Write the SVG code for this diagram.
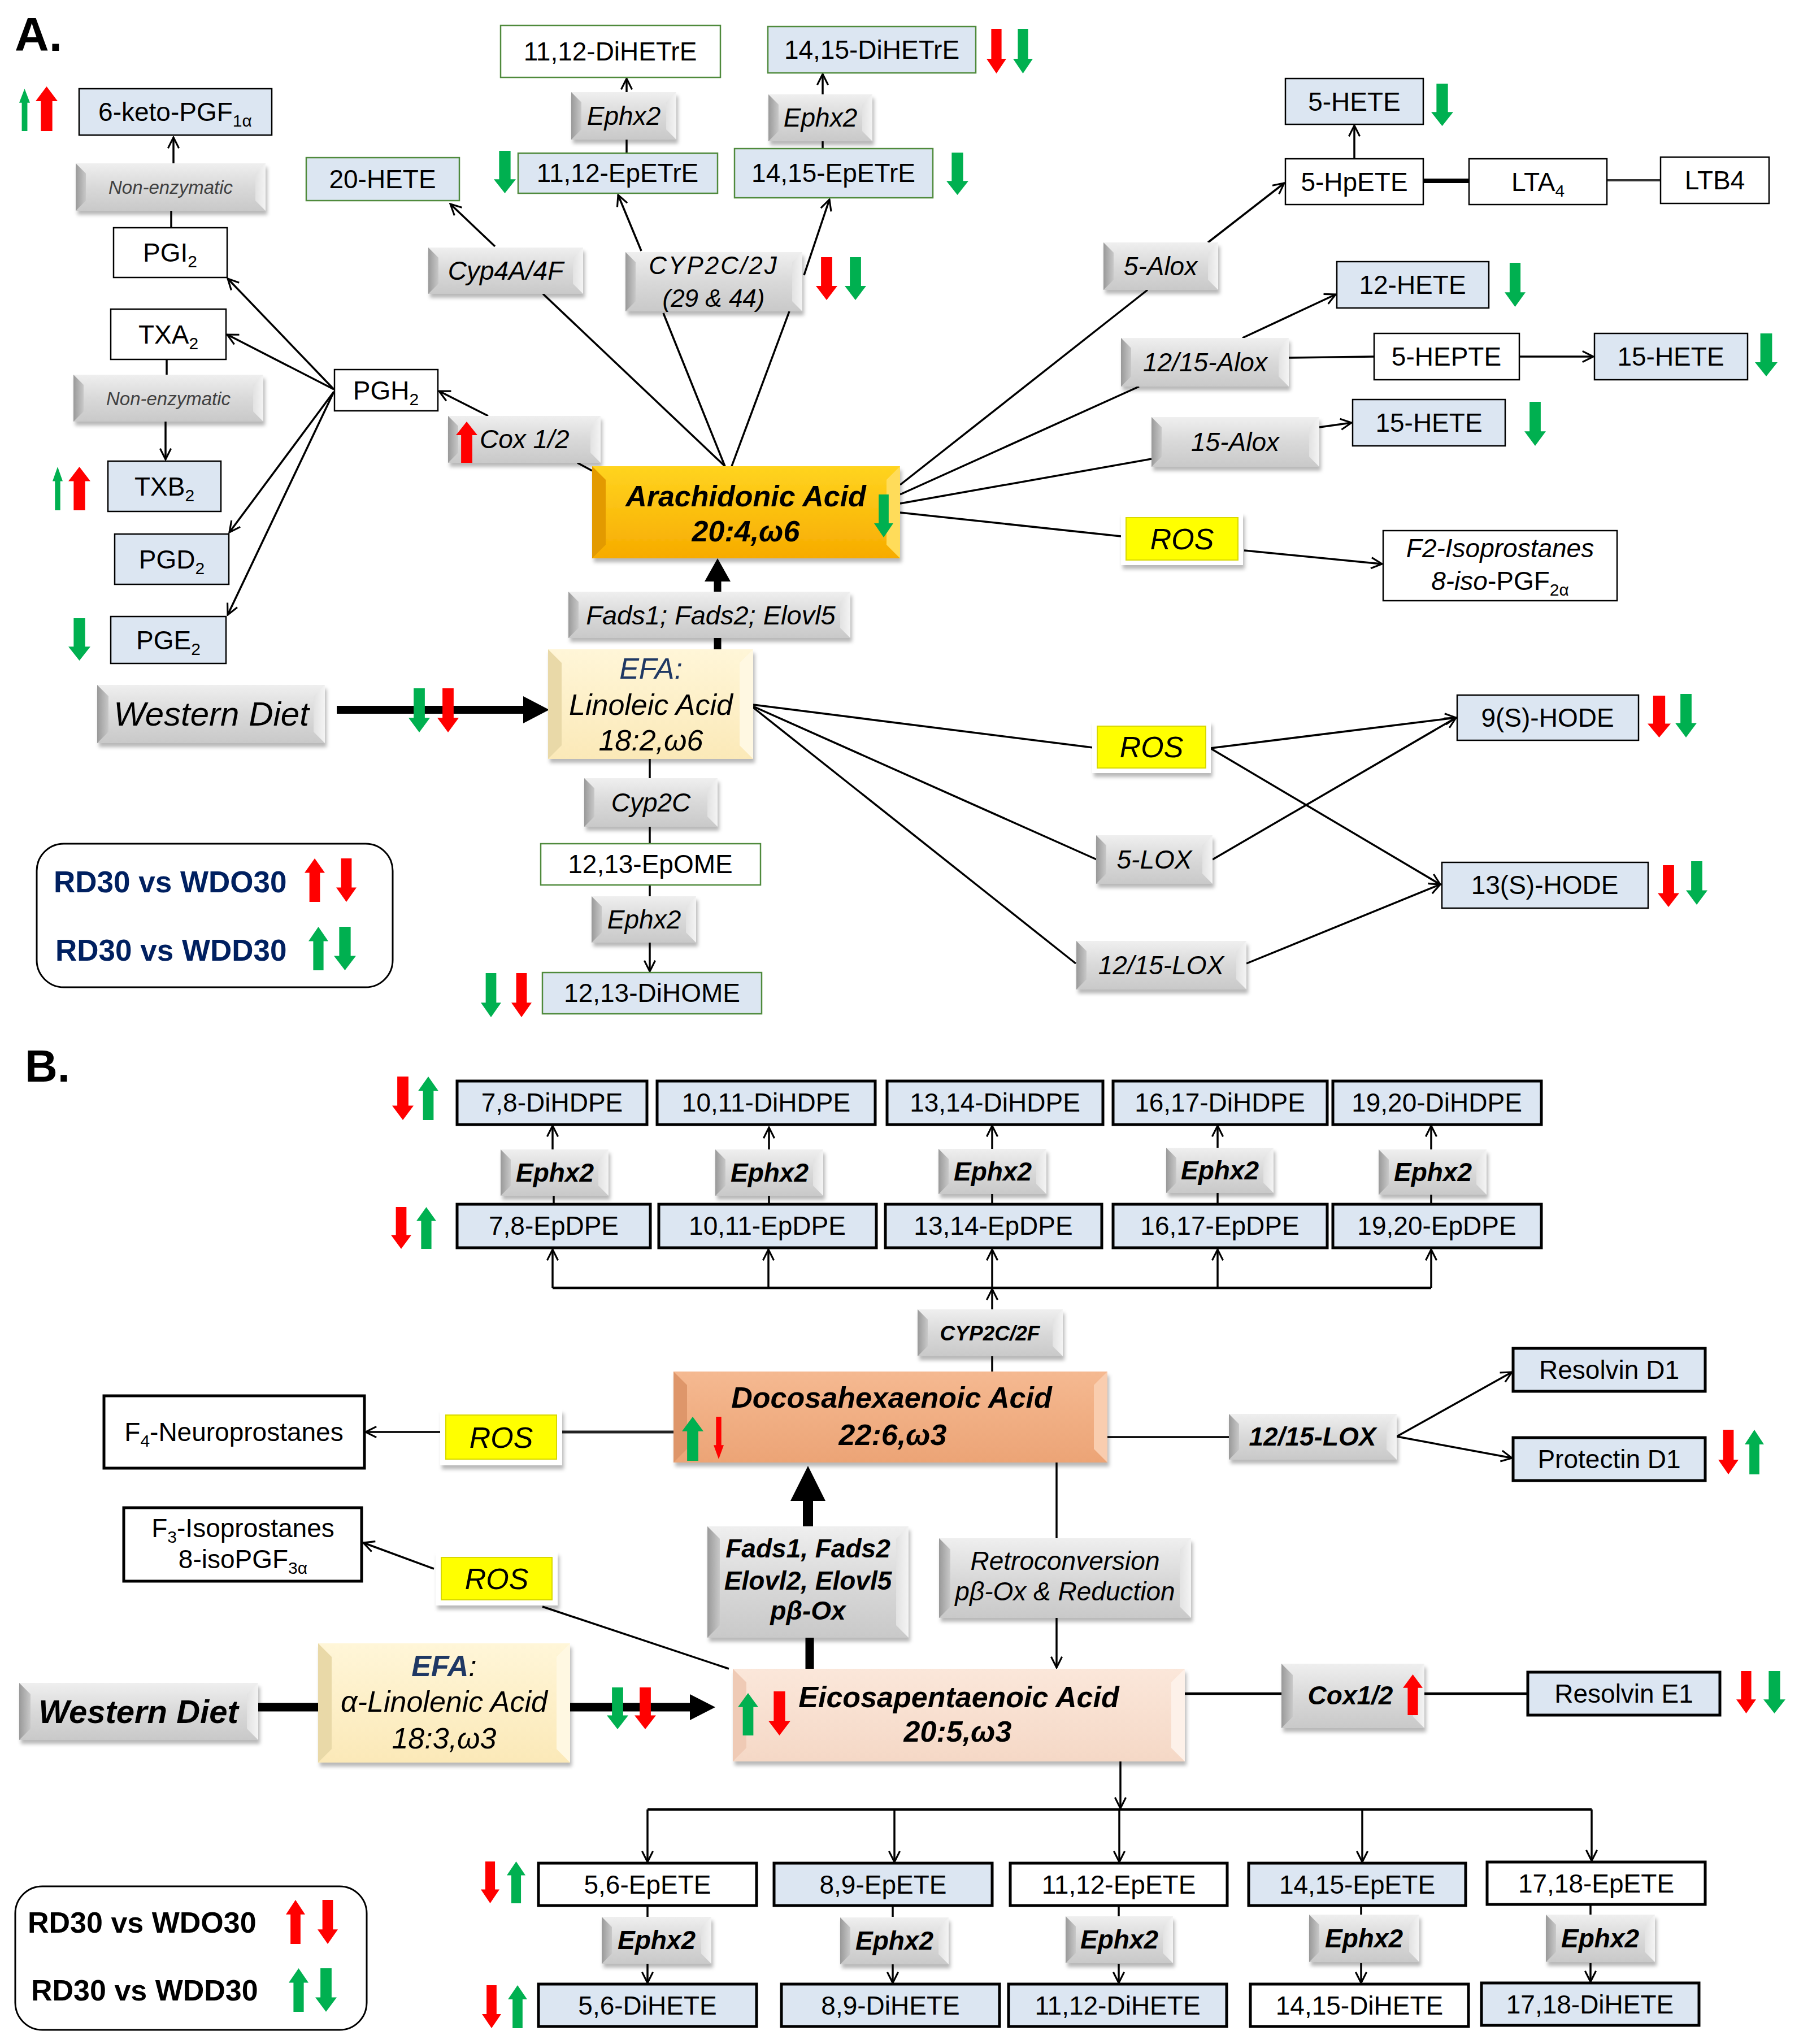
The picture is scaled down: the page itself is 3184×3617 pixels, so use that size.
<svg xmlns="http://www.w3.org/2000/svg" width="3184" height="3617" viewBox="0 0 3184 3617">
<defs>
<style>
.t{font-family:"Liberation Sans",Arial,sans-serif;font-size:46px;text-anchor:middle;fill:#000}
.i{font-style:italic}
.b{font-weight:bold}
.s{font-size:30px}
.bx{stroke:#000;stroke-width:2.5}
.bb{stroke:#000;stroke-width:5}
.lb{fill:#dce6f2}
.wh{fill:#fff}
.gs{stroke:#4f8a3c;stroke-width:2.5}
.ln{stroke:#000;stroke-width:3.5;fill:none}
.ar{marker-end:url(#ah)}
.gf{fill:url(#gF);filter:url(#ds)}
.wl{fill:url(#gL)}
.wr{fill:url(#gR)}
.af{fill:url(#aF);filter:url(#ds)}
.al{fill:#e39a00}
.arr{fill:#ffdc5a}
.df{fill:url(#dF);filter:url(#ds)}
.dl{fill:#de966a}
.dr{fill:#f9cdaf}
.ef{fill:url(#eF);filter:url(#ds)}
.el{fill:#efcab5}
.er{fill:#fdf1e9}
.cf{fill:url(#cF);filter:url(#ds)}
.cl{fill:#e9d9a8}
.cr{fill:#fff8e2}
.ro{fill:#fff;filter:url(#ds)}
.ry{fill:#ffff00;stroke:#d8d800;stroke-width:2}
.R{fill:#ff0000}
.G{fill:#00b050}
.nv{fill:#1f3864}
</style>
<filter id="ds" x="-10%" y="-10%" width="125%" height="140%"><feDropShadow dx="3" dy="7" stdDeviation="3" flood-color="#000" flood-opacity="0.28"/></filter>
<linearGradient id="gF" x1="0" y1="0" x2="0" y2="1"><stop offset="0" stop-color="#efefef"/><stop offset="0.5" stop-color="#d9d9d9"/><stop offset="1" stop-color="#c9c9c9"/></linearGradient>
<linearGradient id="gL" x1="0" y1="0" x2="1" y2="0"><stop offset="0" stop-color="#999"/><stop offset="1" stop-color="#c8c8c8"/></linearGradient>
<linearGradient id="gR" x1="0" y1="0" x2="1" y2="0"><stop offset="0" stop-color="#e2e2e2"/><stop offset="1" stop-color="#f4f4f4"/></linearGradient>
<linearGradient id="aF" x1="0" y1="0" x2="0" y2="1"><stop offset="0" stop-color="#ffd420"/><stop offset="1" stop-color="#f7ab00"/></linearGradient>
<linearGradient id="dF" x1="0" y1="0" x2="0" y2="1"><stop offset="0" stop-color="#f5b991"/><stop offset="1" stop-color="#eca476"/></linearGradient>
<linearGradient id="eF" x1="0" y1="0" x2="0" y2="1"><stop offset="0" stop-color="#fbe7da"/><stop offset="1" stop-color="#f5d8c6"/></linearGradient>
<linearGradient id="cF" x1="0" y1="0" x2="0" y2="1"><stop offset="0" stop-color="#fff6d8"/><stop offset="1" stop-color="#fbe9b8"/></linearGradient>
<marker id="ah" viewBox="0 0 20 20" refX="18" refY="10" markerWidth="24" markerHeight="24" markerUnits="userSpaceOnUse" orient="auto"><path d="M2,2 L18,10 L2,18" fill="none" stroke="#000" stroke-width="2.6"/></marker>
<path id="dA" d="M.24,0H.76V.67H1L.5,1L0,.67H.24Z"/>
<path id="uA" d="M.24,1H.76V.33H1L.5,0L0,.33H.24Z"/>
</defs>
<rect width="3184" height="3617" fill="#fff"/>

<text class="t b" x="26" y="90" style="font-size:84px;text-anchor:start">A.</text>
<text class="t b" x="44" y="1914" style="font-size:80px;text-anchor:start">B.</text>

<!-- connectors -->
<g id="connectors">
<path class="ln ar" d="M307 289V243"/>
<path class="ln" d="M303 403V373"/>
<path class="ln" d="M295 636V663"/>
<path class="ln ar" d="M293 746V813"/>
<path class="ln ar" d="M591 689L403 493"/>
<path class="ln ar" d="M591 689L402 592"/>
<path class="ln ar" d="M591 693L406 942"/>
<path class="ln ar" d="M591 693L403 1088"/>
<path class="ln ar" d="M864 736L777 692"/>
<path class="ln" d="M1022 819L1048 833"/>
<path class="ln ar" d="M876 436L797 361"/>
<path class="ln" d="M1283 825L961 520"/>
<path class="ln" d="M1283 825L1174 554"/>
<path class="ln" d="M1295 825L1397 551"/>
<path class="ln ar" d="M1135 444L1094 345"/>
<path class="ln ar" d="M1423 487L1468 353"/>
<path class="ln" d="M1109 271V247"/>
<path class="ln ar" d="M1109 163V139"/>
<path class="ln" d="M1456 263V250"/>
<path class="ln ar" d="M1456 167V131"/>
<path class="ln" d="M1593 858L2031 513"/>
<path class="ln ar" d="M2138 429L2273 324"/>
<path class="ln ar" d="M2397 281V222"/>
<path d="M2519 320H2600" stroke="#000" stroke-width="8"/>
<path d="M2844 319H2939" stroke="#333" stroke-width="4"/>
<path class="ln" d="M1593 875L2016 684"/>
<path class="ln ar" d="M2199 598L2364 521"/>
<path class="ln" d="M2281 633L2432 631"/>
<path class="ln ar" d="M2689 631H2820"/>
<path class="ln" d="M1593 891L2038 812"/>
<path class="ln ar" d="M2335 756L2392 748"/>
<path class="ln" d="M1593 907L1984 949"/>
<path class="ln ar" d="M2202 974L2446 998"/>
<path d="M1270 1026V1047M1270 1129V1149" stroke="#000" stroke-width="13"/>
<path d="M1247 1029L1270 988L1293 1029Z" fill="#000"/>
<path d="M596 1256H930" stroke="#000" stroke-width="14"/>
<path d="M926 1232L972 1256L926 1280Z" fill="#000"/>
<path class="ln" d="M1150 1343V1377M1150 1463V1493M1150 1566V1586"/>
<path class="ln ar" d="M1150 1668V1719"/>
<path class="ln" d="M1333 1247L1935 1323"/>
<path class="ln" d="M1333 1250L1941 1521"/>
<path class="ln" d="M1333 1252L1904 1705"/>
<path class="ln ar" d="M2142 1324L2577 1270"/>
<path class="ln ar" d="M2142 1324L2549 1565"/>
<path class="ln ar" d="M2146 1521L2577 1270"/>
<path class="ln ar" d="M2206 1705L2549 1565"/>

<path class="ln ar" d="M978 2034V1992"/>
<path class="ln ar" d="M1361 2034V1995"/>
<path class="ln ar" d="M1756 2033V1992"/>
<path class="ln ar" d="M2155 2031V1992"/>
<path class="ln ar" d="M2533 2034V1992"/>
<path class="ln" d="M980 2131V2116M1361 2131V2116M1756 2131V2113M2155 2131V2111M2533 2131V2114"/>
<path class="ln" d="M978 2279H2533" style="stroke-width:4.5"/>
<path class="ln ar" d="M978 2279V2211"/>
<path class="ln ar" d="M1360 2279V2211"/>
<path class="ln ar" d="M1756 2279V2211"/>
<path class="ln ar" d="M2155 2279V2211"/>
<path class="ln ar" d="M2533 2279V2211"/>
<path class="ln ar" d="M1756 2317V2281"/>
<path class="ln" d="M1756 2427V2400"/>
<path d="M1192 2534H995" stroke="#222" stroke-width="5"/>
<path class="ln ar" d="M779 2534H647"/>
<path class="ln" d="M1960 2543H2175"/>
<path class="ln ar" d="M2472 2542L2676 2428"/>
<path class="ln ar" d="M2472 2542L2676 2580"/>
<path class="ln" d="M1870 2588V2722"/>
<path class="ln ar" d="M1870 2863V2951"/>
<path d="M1430 2652V2701" stroke="#000" stroke-width="18"/>
<path d="M1399 2656L1430 2594L1461 2656Z" fill="#000"/>
<path d="M1433 2898V2953" stroke="#000" stroke-width="15"/>
<path class="ln ar" d="M768 2776L643 2730"/>
<path class="ln" d="M1290 2953L960 2843"/>
<path d="M457 3021H563" stroke="#000" stroke-width="15"/>
<path d="M1009 3021H1226" stroke="#000" stroke-width="15"/>
<path d="M1221 2998L1266 3021L1221 3044Z" fill="#000"/>
<path class="ln" d="M2097 2997H2268M2521 2997H2704" style="stroke-width:4.5"/>
<path class="ln ar" d="M1983 3117V3200"/>
<path class="ln" d="M1146 3202H2817" style="stroke-width:4.5"/>
<path class="ln ar" d="M1146 3202V3295"/>
<path class="ln ar" d="M1583 3202V3295"/>
<path class="ln ar" d="M1981 3202V3295"/>
<path class="ln ar" d="M2411 3202V3295"/>
<path class="ln ar" d="M2817 3202V3293"/>
<path class="ln" d="M1146 3372V3392M1580 3372V3392M1980 3372V3392M2409 3372V3390M2815 3369V3390"/>
<path class="ln ar" d="M1146 3475V3509"/>
<path class="ln ar" d="M1580 3476V3509"/>
<path class="ln ar" d="M1980 3475V3509"/>
<path class="ln ar" d="M2409 3474V3509"/>
<path class="ln ar" d="M2815 3474V3507"/>
</g>

<!-- Part A plain nodes -->
<g id="n6keto"><rect class="bx lb" x="140" y="157" width="341" height="82"/><text class="t" x="310" y="214">6-keto-PGF<tspan class="s" dy="10">1α</tspan></text></g>
<g id="nPGI2"><rect class="bx wh" x="201" y="403" width="201" height="88"/><text class="t" x="301" y="463">PGI<tspan class="s" dy="10">2</tspan></text></g>
<g id="nTXA2"><rect class="bx wh" x="196" y="547" width="204" height="89"/><text class="t" x="298" y="608">TXA<tspan class="s" dy="10">2</tspan></text></g>
<g id="nPGH2"><rect class="bx wh" x="592" y="654" width="183" height="73"/><text class="t" x="683" y="707">PGH<tspan class="s" dy="10">2</tspan></text></g>
<g id="nTXB2"><rect class="bx lb" x="191" y="816" width="200" height="89"/><text class="t" x="291" y="877">TXB<tspan class="s" dy="10">2</tspan></text></g>
<g id="nPGD2"><rect class="bx lb" x="203" y="945" width="202" height="89"/><text class="t" x="304" y="1006">PGD<tspan class="s" dy="10">2</tspan></text></g>
<g id="nPGE2"><rect class="bx lb" x="196" y="1091" width="204" height="83"/><text class="t" x="298" y="1149">PGE<tspan class="s" dy="10">2</tspan></text></g>
<g id="n20HETE"><rect class="gs lb" x="542" y="279" width="271" height="76"/><text class="t" x="677" y="333">20-HETE</text></g>
<g id="n1112DiHETrE"><rect class="gs wh" x="886" y="45" width="389" height="92"/><text class="t" x="1080" y="107">11,12-DiHETrE</text></g>
<g id="n1112EpETrE"><rect class="gs lb" x="917" y="271" width="353" height="71"/><text class="t" x="1093" y="322">11,12-EpETrE</text></g>
<g id="n1415DiHETrE"><rect class="gs lb" x="1359" y="47" width="368" height="82"/><text class="t" x="1543" y="104">14,15-DiHETrE</text></g>
<g id="n1415EpETrE"><rect class="gs lb" x="1300" y="263" width="351" height="87"/><text class="t" x="1475" y="322">14,15-EpETrE</text></g>
<g id="n5HETE"><rect class="bx lb" x="2275" y="139" width="244" height="81"/><text class="t" x="2397" y="196">5-HETE</text></g>
<g id="n5HpETE"><rect class="bx wh" x="2275" y="281" width="244" height="81"/><text class="t" x="2397" y="338">5-HpETE</text></g>
<g id="nLTA4"><rect class="bx wh" x="2600" y="281" width="244" height="81"/><text class="t" x="2722" y="338">LTA<tspan class="s" dy="10">4</tspan></text></g>
<g id="nLTB4"><rect class="bx wh" x="2939" y="278" width="192" height="82"/><text class="t" x="3035" y="335">LTB4</text></g>
<g id="n12HETE"><rect class="bx lb" x="2366" y="463" width="269" height="82"/><text class="t" x="2500" y="520">12-HETE</text></g>
<g id="n5HEPTE"><rect class="bx wh" x="2432" y="590" width="257" height="82"/><text class="t" x="2560" y="647">5-HEPTE</text></g>
<g id="n15HETEa"><rect class="bx lb" x="2822" y="590" width="271" height="82"/><text class="t" x="2957" y="647">15-HETE</text></g>
<g id="n15HETEb"><rect class="bx lb" x="2394" y="707" width="270" height="82"/><text class="t" x="2529" y="764">15-HETE</text></g>
<g id="nF2Iso"><rect class="bx wh" x="2448" y="939" width="414" height="124"/><text class="t i" x="2655" y="986">F2-Isoprostanes</text><text class="t" x="2655" y="1044"><tspan class="i">8-iso</tspan>-PGF<tspan class="s" dy="10">2α</tspan></text></g>
<g id="n1213EpOME"><rect class="gs wh" x="957" y="1493" width="389" height="73"/><text class="t" x="1151" y="1545">12,13-EpOME</text></g>
<g id="n1213DiHOME"><rect class="gs lb" x="960" y="1721" width="388" height="73"/><text class="t" x="1154" y="1773">12,13-DiHOME</text></g>
<g id="n9HODE"><rect class="bx lb" x="2579" y="1230" width="321" height="80"/><text class="t" x="2739" y="1286">9(S)-HODE</text></g>
<g id="n13HODE"><rect class="bx lb" x="2552" y="1526" width="365" height="81"/><text class="t" x="2734" y="1582">13(S)-HODE</text></g>

<!-- Part A gray enzyme nodes -->
<g id="nNonEnz1" transform="translate(134,289)"><rect class="gf" width="336" height="84"/><path class="wl" d="M0 0l18 18v48l-18 18z"/><path class="wr" d="M336 0l-18 18v48l18 18z"/><text class="t i" x="168" y="54" style="font-size:33px;fill:#404040">Non-enzymatic</text></g>
<g id="nNonEnz2" transform="translate(130,663)"><rect class="gf" width="336" height="83"/><path class="wl" d="M0 0l18 18v47l-18 18z"/><path class="wr" d="M336 0l-18 18v47l18 18z"/><text class="t i" x="168" y="54" style="font-size:33px;fill:#404040">Non-enzymatic</text></g>
<g id="nCyp4A" transform="translate(758,438)"><rect class="gf" width="274" height="82"/><path class="wl" d="M0 0l18 18v46l-18 18z"/><path class="wr" d="M274 0l-18 18v46l18 18z"/><text class="t i" x="137" y="57">Cyp4A/4F</text></g>
<g id="nEphxA1" transform="translate(1011,163)"><rect class="gf" width="186" height="84"/><path class="wl" d="M0 0l18 18v48l-18 18z"/><path class="wr" d="M186 0l-18 18v48l18 18z"/><text class="t i" x="93" y="58">Ephx2</text></g>
<g id="nEphxA2" transform="translate(1360,167)"><rect class="gf" width="184" height="83"/><path class="wl" d="M0 0l18 18v47l-18 18z"/><path class="wr" d="M184 0l-18 18v47l18 18z"/><text class="t i" x="92" y="57">Ephx2</text></g>
<g id="nCYP2C2J" transform="translate(1107,446)"><rect class="gf" width="313" height="105"/><path class="wl" d="M0 0l18 18v69l-18 18z"/><path class="wr" d="M313 0l-18 18v69l18 18z"/><text class="t i" x="156" y="39" style="font-size:44px;letter-spacing:3px">CYP2C/2J</text><text class="t i" x="156" y="97" style="font-size:44px">(29 &amp; 44)</text></g>
<g id="nCoxA" transform="translate(793,736)"><rect class="gf" width="270" height="83"/><path class="wl" d="M0 0l18 18v47l-18 18z"/><path class="wr" d="M270 0l-18 18v47l18 18z"/><use href="#uA" class="R" transform="translate(14,10) scale(38,73)"/><text class="t i" x="56" y="57" style="text-anchor:start">Cox 1/2</text></g>
<g id="n5Alox" transform="translate(1953,429)"><rect class="gf" width="203" height="84"/><path class="wl" d="M0 0l18 18v48l-18 18z"/><path class="wr" d="M203 0l-18 18v48l18 18z"/><text class="t i" x="101" y="58">5-Alox</text></g>
<g id="n1215Alox" transform="translate(1984,598)"><rect class="gf" width="297" height="86"/><path class="wl" d="M0 0l18 18v50l-18 18z"/><path class="wr" d="M297 0l-18 18v50l18 18z"/><text class="t i" x="149" y="59">12/15-Alox</text></g>
<g id="n15Alox" transform="translate(2038,738)"><rect class="gf" width="297" height="88"/><path class="wl" d="M0 0l18 18v52l-18 18z"/><path class="wr" d="M297 0l-18 18v52l18 18z"/><text class="t i" x="148" y="60">15-Alox</text></g>
<g id="nFadsA" transform="translate(1006,1047)"><rect class="gf" width="499" height="82"/><path class="wl" d="M0 0l18 18v46l-18 18z"/><path class="wr" d="M499 0l-18 18v46l18 18z"/><text class="t i" x="252" y="58" style="font-size:47px">Fads1; Fads2; Elovl5</text></g>
<g id="nCyp2C" transform="translate(1034,1377)"><rect class="gf" width="236" height="86"/><path class="wl" d="M0 0l18 18v50l-18 18z"/><path class="wr" d="M236 0l-18 18v50l18 18z"/><text class="t i" x="118" y="59">Cyp2C</text></g>
<g id="nEphxLA" transform="translate(1047,1586)"><rect class="gf" width="185" height="82"/><path class="wl" d="M0 0l18 18v46l-18 18z"/><path class="wr" d="M185 0l-18 18v46l18 18z"/><text class="t i" x="93" y="57">Ephx2</text></g>
<g id="n5LOX" transform="translate(1940,1478)"><rect class="gf" width="206" height="86"/><path class="wl" d="M0 0l18 18v50l-18 18z"/><path class="wr" d="M206 0l-18 18v50l18 18z"/><text class="t i" x="103" y="59">5-LOX</text></g>
<g id="n1215LOXa" transform="translate(1905,1665)"><rect class="gf" width="301" height="86"/><path class="wl" d="M0 0l18 18v50l-18 18z"/><path class="wr" d="M301 0l-18 18v50l18 18z"/><text class="t i" x="150" y="59">12/15-LOX</text></g>
<g id="nWDA" transform="translate(172,1212)"><rect class="gf" width="403" height="103"/><path class="wl" d="M0 0l20 20v63l-20 20z"/><path class="wr" d="M403 0l-20 20v63l20 20z"/><text class="t i" x="202" y="72" style="font-size:60px">Western Diet</text></g>

<!-- Part A fatty acids and ROS -->
<g id="nAA" transform="translate(1048,825)"><rect class="af" width="545" height="163"/><path class="al" d="M0 0l24 24v115l-24 24z"/><path class="arr" d="M545 0l-24 24v115l24 24z"/><text class="t b i" x="272" y="71" style="font-size:52px">Arachidonic Acid</text><text class="t b i" x="272" y="133" style="font-size:52px">20:4,ω6</text><use href="#dA" class="G" transform="translate(499,50) scale(34,76)"/></g>
<g id="nLA" transform="translate(970,1149)"><rect class="cf" width="363" height="194"/><path class="cl" d="M0 0l24 24v146l-24 24z"/><path class="cr" d="M363 0l-24 24v146l24 24z"/><text class="t i nv" x="182" y="52" style="font-size:52px">EFA:</text><text class="t i" x="182" y="116" style="font-size:52px">Linoleic Acid</text><text class="t i" x="182" y="179" style="font-size:52px">18:2,ω6</text></g>
<g id="nROSa1" transform="translate(1984,907)"><rect class="ro" width="216" height="93"/><rect class="ry" x="9" y="9" width="198" height="75"/><text class="t i" x="108" y="65" style="font-size:52px">ROS</text></g>
<g id="nROSa2" transform="translate(1933,1276)"><rect class="ro" width="210" height="92"/><rect class="ry" x="9" y="9" width="192" height="74"/><text class="t i" x="105" y="64" style="font-size:52px">ROS</text></g>

<!-- Part A legend -->
<g id="legendA"><rect x="65" y="1493" width="630" height="254" rx="48" fill="#fff" stroke="#000" stroke-width="3"/><text class="t b" x="95" y="1579" style="font-size:53px;fill:#002060;text-anchor:start">RD30 vs WDO30</text><text class="t b" x="98" y="1700" style="font-size:53px;fill:#002060;text-anchor:start">RD30 vs WDD30</text></g>

<!-- Part B plain nodes -->
<g id="n78DiHDPE"><rect class="bb lb" x="809" y="1913" width="336" height="77"/><text class="t" x="977" y="1967">7,8-DiHDPE</text></g>
<g id="n1011DiHDPE"><rect class="bb lb" x="1163" y="1913" width="386" height="77"/><text class="t" x="1356" y="1967">10,11-DiHDPE</text></g>
<g id="n1314DiHDPE"><rect class="bb lb" x="1570" y="1913" width="382" height="77"/><text class="t" x="1761" y="1967">13,14-DiHDPE</text></g>
<g id="n1617DiHDPE"><rect class="bb lb" x="1970" y="1913" width="379" height="77"/><text class="t" x="2159" y="1967">16,17-DiHDPE</text></g>
<g id="n1920DiHDPE"><rect class="bb lb" x="2359" y="1913" width="369" height="77"/><text class="t" x="2543" y="1967">19,20-DiHDPE</text></g>
<g id="n78EpDPE"><rect class="bb lb" x="809" y="2131" width="342" height="77"/><text class="t" x="980" y="2185">7,8-EpDPE</text></g>
<g id="n1011EpDPE"><rect class="bb lb" x="1166" y="2131" width="385" height="77"/><text class="t" x="1358" y="2185">10,11-EpDPE</text></g>
<g id="n1314EpDPE"><rect class="bb lb" x="1567" y="2131" width="383" height="77"/><text class="t" x="1758" y="2185">13,14-EpDPE</text></g>
<g id="n1617EpDPE"><rect class="bb lb" x="1970" y="2131" width="379" height="77"/><text class="t" x="2159" y="2185">16,17-EpDPE</text></g>
<g id="n1920EpDPE"><rect class="bb lb" x="2359" y="2131" width="369" height="77"/><text class="t" x="2543" y="2185">19,20-EpDPE</text></g>
<g id="nF4"><rect class="bb wh" x="184" y="2470" width="461" height="128"/><text class="t" x="414" y="2550">F<tspan class="s" dy="10">4</tspan><tspan dy="-10">-Neuroprostanes</tspan></text></g>
<g id="nF3"><rect class="bb wh" x="219" y="2668" width="421" height="130"/><text class="t" x="430" y="2720">F<tspan class="s" dy="10">3</tspan><tspan dy="-10">-Isoprostanes</tspan></text><text class="t" x="430" y="2775">8-isoPGF<tspan class="s" dy="10">3α</tspan></text></g>
<g id="nResD1"><rect class="bb lb" x="2678" y="2386" width="340" height="76"/><text class="t" x="2848" y="2440">Resolvin D1</text></g>
<g id="nProD1"><rect class="bb lb" x="2678" y="2544" width="340" height="76"/><text class="t" x="2848" y="2598">Protectin D1</text></g>
<g id="nResE1"><rect class="bb lb" x="2704" y="2959" width="340" height="76"/><text class="t" x="2874" y="3013">Resolvin E1</text></g>
<g id="n56EpETE"><rect class="bb wh" x="953" y="3297" width="386" height="75"/><text class="t" x="1146" y="3351">5,6-EpETE</text></g>
<g id="n89EpETE"><rect class="bb lb" x="1370" y="3297" width="386" height="75"/><text class="t" x="1563" y="3351">8,9-EpETE</text></g>
<g id="n1112EpETE"><rect class="bb wh" x="1788" y="3297" width="384" height="75"/><text class="t" x="1980" y="3351">11,12-EpETE</text></g>
<g id="n1415EpETE"><rect class="bb lb" x="2210" y="3297" width="384" height="75"/><text class="t" x="2402" y="3351">14,15-EpETE</text></g>
<g id="n1718EpETE"><rect class="bb wh" x="2632" y="3295" width="386" height="75"/><text class="t" x="2825" y="3349">17,18-EpETE</text></g>
<g id="n56DiHETE"><rect class="bb lb" x="953" y="3511" width="386" height="75"/><text class="t" x="1146" y="3565">5,6-DiHETE</text></g>
<g id="n89DiHETE"><rect class="bb lb" x="1383" y="3511" width="386" height="75"/><text class="t" x="1576" y="3565">8,9-DiHETE</text></g>
<g id="n1112DiHETE"><rect class="bb lb" x="1785" y="3511" width="386" height="75"/><text class="t" x="1978" y="3565">11,12-DiHETE</text></g>
<g id="n1415DiHETE"><rect class="bb wh" x="2213" y="3511" width="386" height="75"/><text class="t" x="2406" y="3565">14,15-DiHETE</text></g>
<g id="n1718DiHETE"><rect class="bb lb" x="2622" y="3509" width="385" height="75"/><text class="t" x="2814" y="3563">17,18-DiHETE</text></g>

<!-- Part B gray enzyme nodes -->
<g id="nEphxB1" transform="translate(886,2034)"><rect class="gf" width="191" height="82"/><path class="wl" d="M0 0l18 18v46l-18 18z"/><path class="wr" d="M191 0l-18 18v46l18 18z"/><text class="t b i" x="96" y="57">Ephx2</text></g>
<g id="nEphxB2" transform="translate(1266,2034)"><rect class="gf" width="191" height="82"/><path class="wl" d="M0 0l18 18v46l-18 18z"/><path class="wr" d="M191 0l-18 18v46l18 18z"/><text class="t b i" x="96" y="57">Ephx2</text></g>
<g id="nEphxB3" transform="translate(1661,2033)"><rect class="gf" width="191" height="80"/><path class="wl" d="M0 0l18 18v44l-18 18z"/><path class="wr" d="M191 0l-18 18v44l18 18z"/><text class="t b i" x="96" y="56">Ephx2</text></g>
<g id="nEphxB4" transform="translate(2064,2031)"><rect class="gf" width="190" height="80"/><path class="wl" d="M0 0l18 18v44l-18 18z"/><path class="wr" d="M190 0l-18 18v44l18 18z"/><text class="t b i" x="95" y="56">Ephx2</text></g>
<g id="nEphxB5" transform="translate(2440,2034)"><rect class="gf" width="191" height="80"/><path class="wl" d="M0 0l18 18v44l-18 18z"/><path class="wr" d="M191 0l-18 18v44l18 18z"/><text class="t b i" x="96" y="56">Ephx2</text></g>
<g id="nCYP2C2F" transform="translate(1624,2317)"><rect class="gf" width="257" height="83"/><path class="wl" d="M0 0l18 18v47l-18 18z"/><path class="wr" d="M257 0l-18 18v47l18 18z"/><text class="t b i" x="128" y="55" style="font-size:37px">CYP2C/2F</text></g>
<g id="n1215LOXb" transform="translate(2175,2502)"><rect class="gf" width="297" height="81"/><path class="wl" d="M0 0l18 18v45l-18 18z"/><path class="wr" d="M297 0l-18 18v45l18 18z"/><text class="t b i" x="148" y="56" style="font-size:46px">12/15-LOX</text></g>
<g id="nFadsB" transform="translate(1252,2701)"><rect class="gf" width="356" height="197"/><path class="wl" d="M0 0l22 22v153l-22 22z"/><path class="wr" d="M356 0l-22 22v153l22 22z"/><text class="t b i" x="178" y="55">Fads1, Fads2</text><text class="t b i" x="178" y="112">Elovl2, Elovl5</text><text class="t b i" x="178" y="165">pβ-Ox</text></g>
<g id="nRetro" transform="translate(1662,2722)"><rect class="gf" width="446" height="141"/><path class="wl" d="M0 0l20 20v101l-20 20z"/><path class="wr" d="M446 0l-20 20v101l20 20z"/><text class="t i" x="223" y="56">Retroconversion</text><text class="t i" x="223" y="110">pβ-Ox &amp; Reduction</text></g>
<g id="nWDB" transform="translate(34,2978)"><rect class="gf" width="423" height="101"/><path class="wl" d="M0 0l20 20v61l-20 20z"/><path class="wr" d="M423 0l-20 20v61l20 20z"/><text class="t b i" x="211" y="71" style="font-size:58px">Western Diet</text></g>
<g id="nCoxB" transform="translate(2268,2944)"><rect class="gf" width="253" height="114"/><path class="wl" d="M0 0l20 20v74l-20 20z"/><path class="wr" d="M253 0l-20 20v74l20 20z"/><text class="t b i" x="122" y="72">Cox1/2</text><use href="#uA" class="R" transform="translate(215,19) scale(35,72)"/></g>
<g id="nEphxC1" transform="translate(1065,3392)"><rect class="gf" width="194" height="83"/><path class="wl" d="M0 0l18 18v47l-18 18z"/><path class="wr" d="M194 0l-18 18v47l18 18z"/><text class="t b i" x="97" y="57">Ephx2</text></g>
<g id="nEphxC2" transform="translate(1487,3393)"><rect class="gf" width="192" height="83"/><path class="wl" d="M0 0l18 18v47l-18 18z"/><path class="wr" d="M192 0l-18 18v47l18 18z"/><text class="t b i" x="96" y="57">Ephx2</text></g>
<g id="nEphxC3" transform="translate(1886,3391)"><rect class="gf" width="190" height="83"/><path class="wl" d="M0 0l18 18v47l-18 18z"/><path class="wr" d="M190 0l-18 18v47l18 18z"/><text class="t b i" x="95" y="57">Ephx2</text></g>
<g id="nEphxC4" transform="translate(2317,3388)"><rect class="gf" width="195" height="84"/><path class="wl" d="M0 0l18 18v48l-18 18z"/><path class="wr" d="M195 0l-18 18v48l18 18z"/><text class="t b i" x="97" y="58">Ephx2</text></g>
<g id="nEphxC5" transform="translate(2736,3388)"><rect class="gf" width="193" height="84"/><path class="wl" d="M0 0l18 18v48l-18 18z"/><path class="wr" d="M193 0l-18 18v48l18 18z"/><text class="t b i" x="96" y="58">Ephx2</text></g>

<!-- Part B fatty acids and ROS -->
<g id="nDHA" transform="translate(1192,2427)"><rect class="df" width="768" height="161"/><path class="dl" d="M0 0l24 24v113l-24 24z"/><path class="dr" d="M768 0l-24 24v113l24 24z"/><text class="t b i" x="386" y="64" style="font-size:52px">Docosahexaenoic Acid</text><text class="t b i" x="388" y="130" style="font-size:52px">22:6,ω3</text><use href="#uA" class="G" transform="translate(15,80) scale(38,78)"/><use href="#dA" class="R" transform="translate(71,80) scale(18,75)"/></g>
<g id="nEPA" transform="translate(1297,2953)"><rect class="ef" width="800" height="164"/><path class="el" d="M0 0l24 24v116l-24 24z"/><path class="er" d="M800 0l-24 24v116l24 24z"/><text class="t b i" x="400" y="68" style="font-size:52px">Eicosapentaenoic Acid</text><text class="t b i" x="398" y="129" style="font-size:52px">20:5,ω3</text><use href="#uA" class="G" transform="translate(9,43) scale(36,75)"/><use href="#dA" class="R" transform="translate(63,40) scale(39,78)"/></g>
<g id="nALA" transform="translate(563,2908)"><rect class="cf" width="446" height="211"/><path class="cl" d="M0 0l24 24v163l-24 24z"/><path class="cr" d="M446 0l-24 24v163l24 24z"/><text class="t i" x="223" y="58" style="font-size:52px"><tspan class="b nv">EFA</tspan>:</text><text class="t i" x="223" y="121" style="font-size:52px">α-Linolenic Acid</text><text class="t i" x="223" y="186" style="font-size:52px">18:3,ω3</text></g>
<g id="nROSb1" transform="translate(779,2494)"><rect class="ro" width="216" height="99"/><rect class="ry" x="10" y="10" width="196" height="78"/><text class="t i" x="108" y="68" style="font-size:52px">ROS</text></g>
<g id="nROSb2" transform="translate(771,2746)"><rect class="ro" width="216" height="95"/><rect class="ry" x="10" y="10" width="196" height="75"/><text class="t i" x="108" y="66" style="font-size:52px">ROS</text></g>

<!-- Part B legend -->
<g id="legendB"><rect x="27" y="3338" width="622" height="254" rx="48" fill="#fff" stroke="#000" stroke-width="3"/><text class="t b" x="49" y="3420" style="font-size:52px;text-anchor:start">RD30 vs WDO30</text><text class="t b" x="55" y="3540" style="font-size:52px;text-anchor:start">RD30 vs WDD30</text></g>

<!-- change indicator arrows -->
<g id="indicators">
<use href="#uA" class="G" transform="translate(34,157) scale(19,75)"/>
<use href="#uA" class="R" transform="translate(63,153) scale(39,79)"/>
<use href="#uA" class="G" transform="translate(93,826) scale(18,77)"/>
<use href="#uA" class="R" transform="translate(121,826) scale(39,77)"/>
<use href="#dA" class="G" transform="translate(121,1094) scale(39,75)"/>
<use href="#dA" class="G" transform="translate(874,267) scale(39,75)"/>
<use href="#dA" class="G" transform="translate(1675,270) scale(39,75)"/>
<use href="#dA" class="R" transform="translate(1746,51) scale(35,79)"/>
<use href="#dA" class="G" transform="translate(1793,51) scale(35,79)"/>
<use href="#dA" class="R" transform="translate(1444,455) scale(38,76)"/>
<use href="#dA" class="G" transform="translate(1495,455) scale(38,76)"/>
<use href="#dA" class="G" transform="translate(2533,148) scale(39,75)"/>
<use href="#dA" class="G" transform="translate(2663,465) scale(37,78)"/>
<use href="#dA" class="G" transform="translate(3106,590) scale(40,76)"/>
<use href="#dA" class="G" transform="translate(2698,711) scale(38,78)"/>
<use href="#dA" class="G" transform="translate(723,1218) scale(38,78)"/>
<use href="#dA" class="R" transform="translate(774,1218) scale(38,78)"/>
<use href="#dA" class="G" transform="translate(851,1722) scale(36,78)"/>
<use href="#dA" class="R" transform="translate(905,1722) scale(36,78)"/>
<use href="#dA" class="R" transform="translate(2916,1231) scale(41,74)"/>
<use href="#dA" class="G" transform="translate(2965,1228) scale(38,77)"/>
<use href="#dA" class="R" transform="translate(2934,1531) scale(38,74)"/>
<use href="#dA" class="G" transform="translate(2984,1524) scale(38,77)"/>
<use href="#uA" class="R" transform="translate(539,1519) scale(36,77)"/>
<use href="#dA" class="R" transform="translate(595,1519) scale(36,77)"/>
<use href="#uA" class="G" transform="translate(546,1640) scale(35,77)"/>
<use href="#dA" class="G" transform="translate(591,1640) scale(39,77)"/>
<use href="#dA" class="R" transform="translate(694,1905) scale(38,77)"/>
<use href="#uA" class="G" transform="translate(740,1905) scale(36,77)"/>
<use href="#dA" class="R" transform="translate(692,2136) scale(36,74)"/>
<use href="#uA" class="G" transform="translate(737,2136) scale(35,74)"/>
<use href="#dA" class="R" transform="translate(3041,2530) scale(36,79)"/>
<use href="#uA" class="G" transform="translate(3088,2530) scale(34,79)"/>
<use href="#dA" class="G" transform="translate(1074,2986) scale(38,74)"/>
<use href="#dA" class="R" transform="translate(1123,2986) scale(38,74)"/>
<use href="#dA" class="R" transform="translate(3073,2957) scale(35,75)"/>
<use href="#dA" class="G" transform="translate(3121,2957) scale(39,75)"/>
<use href="#dA" class="R" transform="translate(851,3294) scale(33,74)"/>
<use href="#uA" class="G" transform="translate(897,3294) scale(33,74)"/>
<use href="#dA" class="R" transform="translate(853,3513) scale(34,76)"/>
<use href="#uA" class="G" transform="translate(899,3513) scale(34,76)"/>
<use href="#uA" class="R" transform="translate(506,3362) scale(34,78)"/>
<use href="#dA" class="R" transform="translate(562,3362) scale(36,78)"/>
<use href="#uA" class="G" transform="translate(511,3483) scale(35,77)"/>
<use href="#dA" class="G" transform="translate(558,3483) scale(38,77)"/>
</g>
</svg>
